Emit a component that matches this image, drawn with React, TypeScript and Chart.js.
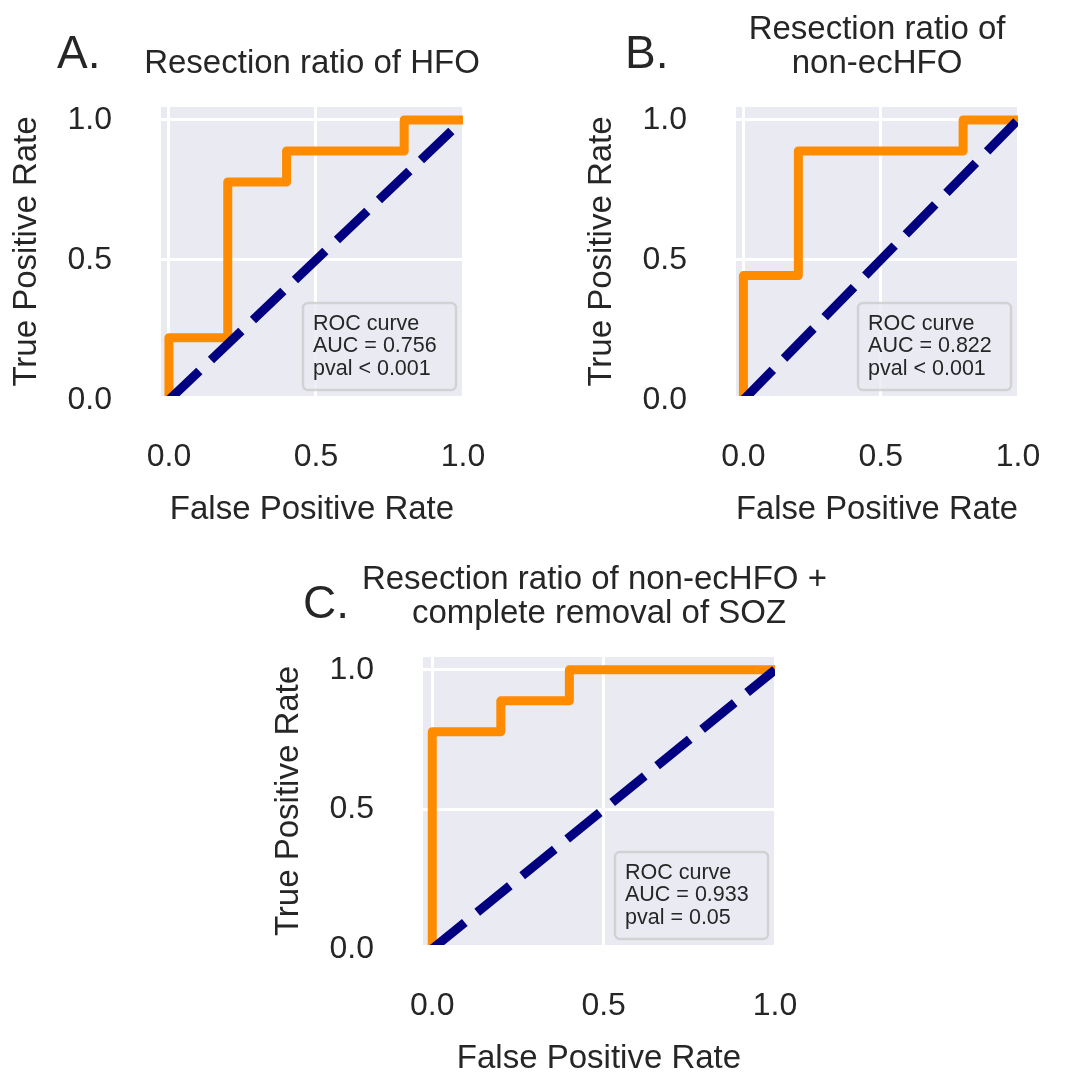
import React, { useEffect, useRef } from "react";
import { Chart, registerables } from "chart.js";

Chart.register(...registerables);

// ---------------- data ----------------
const panelLetters = ["A.", "B.", "C."];
const panelTitles = [
  ["Resection ratio of HFO"],
  ["Resection ratio of", "non-ecHFO"],
  ["Resection ratio of non-ecHFO + ", "complete removal of SOZ"],
];
const fprA = [0, 0, 0.2, 0.2, 0.4, 0.4, 0.8, 0.8, 1.0];
const tprA = [0, 0.222, 0.222, 0.778, 0.778, 0.889, 0.889, 1.0, 1.0];
const fprB = [0, 0, 0.2, 0.2, 0.8, 0.8, 1.0];
const tprB = [0, 0.444, 0.444, 0.889, 0.889, 1.0, 1.0];
const fprC = [0, 0, 0.2, 0.2, 0.4, 0.4, 1.0];
const tprC = [0, 0.778, 0.778, 0.889, 0.889, 1.0, 1.0];
const chanceX = [0, 1];
const chanceY = [0, 1];
const legendTexts = [
  ["ROC curve", "AUC = 0.756", "pval < 0.001"],
  ["ROC curve", "AUC = 0.822", "pval < 0.001"],
  ["ROC curve", "AUC = 0.933", "pval = 0.05"],
];
const axisTicks = [0, 0.5, 1.0];
const xLabel = "False Positive Rate";
const yLabel = "True Positive Rate";
const xRange = [-0.027, 1.0];
const yRange = [0.014, 1.046];

const rocSeries = [
  { fpr: fprA, tpr: tprA },
  { fpr: fprB, tpr: tprB },
  { fpr: fprC, tpr: tprC },
];

// ---------------- layout / style ----------------
const FONT = "'Liberation Sans', Arial, Helvetica, sans-serif";
const TEXT = "#262626";
const BG = "#EAEAF2";
const Y_W = 161;
const X_H = 129;

const panels = [
  { left: 0, top: 0, w: 541, h: 540, pad: { left: 0, top: 107, right: 78, bottom: 15 }, letterDx: -104 },
  { left: 541, top: 0, w: 541, h: 540, pad: { left: 34, top: 107, right: 29, bottom: 15 }, letterDx: -111 },
  { left: 200, top: 540, w: 682, h: 534, pad: { left: 62, top: 117, right: 107, bottom: 0 }, letterDx: -120 },
];

function makeDecor(idx: number) {
  return {
    id: "decor" + idx,
    beforeDraw(chart: any) {
      const { ctx, chartArea: a } = chart;
      ctx.save();
      ctx.fillStyle = BG;
      ctx.fillRect(a.left, a.top, a.right - a.left, a.bottom - a.top);
      ctx.restore();
    },
    afterDraw(chart: any) {
      const { ctx, chartArea: a } = chart;
      ctx.save();
      // title
      ctx.fillStyle = TEXT;
      ctx.font = `33px ${FONT}`;
      ctx.textAlign = "center";
      ctx.textBaseline = "alphabetic";
      const lines = panelTitles[idx];
      const cx = (a.left + a.right) / 2;
      lines.forEach((t, i) => {
        const y = a.top - 34 - (lines.length - 1 - i) * 34.5;
        ctx.fillText(t, cx, y);
      });
      // panel letter
      ctx.font = `46px ${FONT}`;
      ctx.textAlign = "left";
      ctx.fillText(panelLetters[idx], a.left + panels[idx].letterDx, a.top - 39);
      // legend box
      const bw = 153;
      const bh = 87;
      const bx = a.right - 7 - bw;
      const by = a.bottom - 6 - bh;
      ctx.beginPath();
      (ctx as any).roundRect(bx, by, bw, bh, 5);
      ctx.fillStyle = "rgba(234,234,242,0.8)";
      ctx.fill();
      ctx.lineWidth = 2.5;
      ctx.strokeStyle = "rgba(204,204,204,0.8)";
      ctx.stroke();
      ctx.fillStyle = TEXT;
      ctx.font = `21.5px ${FONT}`;
      ctx.textBaseline = "middle";
      legendTexts[idx].forEach((t, i) => {
        ctx.fillText(t, bx + 10, by + 21 + i * 22.5);
      });
      ctx.restore();
    },
  };
}

function buildConfig(idx: number): any {
  const roc = rocSeries[idx];
  const p = panels[idx];
  return {
    type: "line",
    data: {
      datasets: [
        {
          data: chanceX.map((x, i) => ({ x, y: chanceY[i] })),
          borderColor: "#000080",
          borderWidth: 9,
          borderDash: [42, 16],
          borderCapStyle: "butt",
          pointRadius: 0,
          tension: 0,
          fill: false,
          clip: 0,
        },
        {
          data: roc.fpr.map((x, i) => ({ x, y: roc.tpr[i] })),
          borderColor: "#FF8C00",
          borderWidth: 9,
          borderJoinStyle: "round",
          borderCapStyle: "butt",
          pointRadius: 0,
          tension: 0,
          fill: false,
          clip: 0,
        },
      ],
    },
    options: {
      animation: false,
      responsive: false,
      maintainAspectRatio: false,
      devicePixelRatio: 1,
      events: [],
      layout: { padding: p.pad },
      plugins: {
        legend: { display: false },
        tooltip: { enabled: false },
        title: { display: false },
      },
      scales: {
        x: {
          type: "linear",
          position: "bottom",
          min: xRange[0],
          max: xRange[1],
          afterBuildTicks: (s: any) => {
            s.ticks = axisTicks.map((v) => ({ value: v }));
          },
          afterFit: (s: any) => {
            s.height = X_H;
          },
          grid: { color: "#ffffff", lineWidth: 3, drawTicks: false },
          border: { display: false },
          ticks: {
            autoSkip: false,
            maxRotation: 0,
            padding: 41.7,
            color: TEXT,
            font: { family: FONT, size: 32 },
            callback: (v: any) => Number(v).toFixed(1),
          },
          title: {
            display: true,
            text: xLabel,
            color: TEXT,
            font: { family: FONT, size: 33, lineHeight: 0.9 },
            padding: { top: 0, bottom: 0 },
          },
        },
        y: {
          type: "linear",
          position: "left",
          min: yRange[0],
          max: yRange[1],
          afterBuildTicks: (s: any) => {
            s.ticks = axisTicks.map((v) => ({ value: v }));
          },
          afterFit: (s: any) => {
            s.width = Y_W;
          },
          grid: { color: "#ffffff", lineWidth: 3, drawTicks: false },
          border: { display: false },
          ticks: {
            autoSkip: false,
            padding: 49,
            color: TEXT,
            font: { family: FONT, size: 32 },
            callback: (v: any) => Number(v).toFixed(1),
          },
          title: {
            display: true,
            text: yLabel,
            color: TEXT,
            font: { family: FONT, size: 33 },
            padding: { top: 6.8, bottom: 0 },
          },
        },
      },
    },
    plugins: [makeDecor(idx)],
  };
}

function Panel({ idx }: { idx: number }) {
  const ref = useRef<HTMLCanvasElement | null>(null);
  useEffect(() => {
    if (!ref.current) return;
    const chart = new Chart(ref.current, buildConfig(idx));
    return () => chart.destroy();
  }, [idx]);
  const p = panels[idx];
  return (
    <canvas
      ref={ref}
      width={p.w}
      height={p.h}
      style={{ position: "absolute", left: p.left, top: p.top, width: p.w, height: p.h }}
    />
  );
}

export default function App() {
  return (
    <div style={{ position: "absolute", left: 0, top: 0, width: 1082, height: 1074, background: "#ffffff", overflow: "hidden" }}>
      <Panel idx={0} />
      <Panel idx={1} />
      <Panel idx={2} />
    </div>
  );
}
